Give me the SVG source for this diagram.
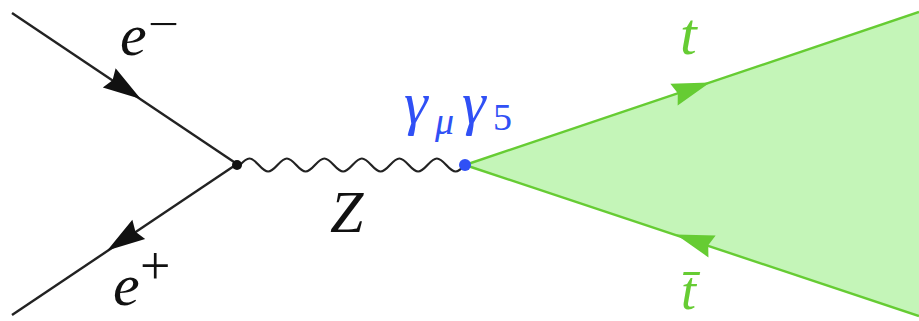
<svg xmlns="http://www.w3.org/2000/svg" width="919" height="321" viewBox="0 0 919 321">
<style>
.fermion{stroke:#222;stroke-width:2.4;fill:none}
.boson{stroke:#222;stroke-width:2.2;fill:none}
.topline{stroke:#66cc33;stroke-width:2.4;fill:none}
.cone{fill:#c4f5b8;stroke:none}
.lbl{font-family:"Liberation Serif","DejaVu Serif",serif;font-style:italic}
.rm{font-family:"Liberation Serif","DejaVu Serif",serif;font-style:normal}
.blk{fill:#111}
.grn{fill:#66cc33}
.blu{fill:#3050f5}
</style>
<defs>
<path id="ah" d="M19,0 L-19,-11.5 L-15,0 L-19,11.5 Z"/>
</defs>
<rect width="919" height="321" fill="#ffffff"/>
<g id="topcone">
<polygon class="cone" points="465,165 919,12 919,316"/>
</g>
<g id="connectors">
<line id="eminus" class="fermion" x1="12" y1="13" x2="237" y2="164"/>
<line id="eplus" class="fermion" x1="237" y1="164" x2="12" y2="315"/>
<use href="#ah" class="blk" transform="translate(125,88.5) rotate(33.87)"/>
<use href="#ah" class="blk" transform="translate(123,240) rotate(146.13)"/>
<path id="zboson" class="boson" d="M237,165 L240,165 c3.058,-3.33 5.984,-6.5 9.375,-6.5 c3.391,0 6.317,3.17 9.375,6.5 c3.058,3.33 5.984,6.5 9.375,6.5 c3.391,0 6.317,-3.17 9.375,-6.5 c3.058,-3.33 5.984,-6.5 9.375,-6.5 c3.391,0 6.317,3.17 9.375,6.5 c3.058,3.33 5.984,6.5 9.375,6.5 c3.391,0 6.317,-3.17 9.375,-6.5 c3.058,-3.33 5.984,-6.5 9.375,-6.5 c3.391,0 6.317,3.17 9.375,6.5 c3.058,3.33 5.984,6.5 9.375,6.5 c3.391,0 6.317,-3.17 9.375,-6.5 c3.058,-3.33 5.984,-6.5 9.375,-6.5 c3.391,0 6.317,3.17 9.375,6.5 c3.058,3.33 5.984,6.5 9.375,6.5 c3.391,0 6.317,-3.17 9.375,-6.5 c3.058,-3.33 5.984,-6.5 9.375,-6.5 c3.391,0 6.317,3.17 9.375,6.5 c3.058,3.33 5.984,6.5 9.375,6.5 c3.391,0 6.317,-3.17 9.375,-6.5 c3.058,-3.33 5.984,-6.5 9.375,-6.5 c3.391,0 6.317,3.17 9.375,6.5 c3.058,3.33 5.984,6.5 9.375,6.5 c3.391,0 6.317,-3.17 9.375,-6.5"/>
<line id="top" class="topline" x1="465" y1="165" x2="919" y2="12"/>
<line id="antitop" class="topline" x1="465" y1="165" x2="919" y2="316"/>
<use href="#ah" class="grn" transform="translate(692,88.5) rotate(-18.62)"/>
<use href="#ah" class="grn" transform="translate(694,240.5) rotate(198.28)"/>
</g>
<g id="vertex1">
<circle cx="237" cy="165" r="5" class="blk"/>
</g>
<g id="vertex2">
<circle cx="465" cy="165" r="6" class="blu"/>
</g>
<g id="label-eminus">
<text class="lbl blk" x="120" y="55" font-size="60">e</text>
<text class="rm blk" x="148" y="37.6" font-size="42" textLength="31" lengthAdjust="spacingAndGlyphs">−</text>
</g>
<g id="label-eplus">
<text class="lbl blk" x="113" y="305" font-size="60">e</text>
<text class="rm blk" x="140" y="284" font-size="54">+</text>
</g>
<g id="label-z">
<text class="lbl blk" x="330" y="232" font-size="60">Z</text>
</g>
<g id="label-gamma">
<text class="lbl blu" font-size="60"><tspan x="404" y="123">γ</tspan><tspan x="435" y="134" font-size="38">μ</tspan><tspan x="462" y="123">γ</tspan><tspan class="rm" x="493" y="130" font-size="38">5</tspan></text>
</g>
<g id="label-t">
<text class="lbl grn" x="680" y="54" font-size="60">t</text>
</g>
<g id="label-tbar">
<text class="lbl grn" x="681" y="309" font-size="54">t̄</text>
</g>
</svg>
